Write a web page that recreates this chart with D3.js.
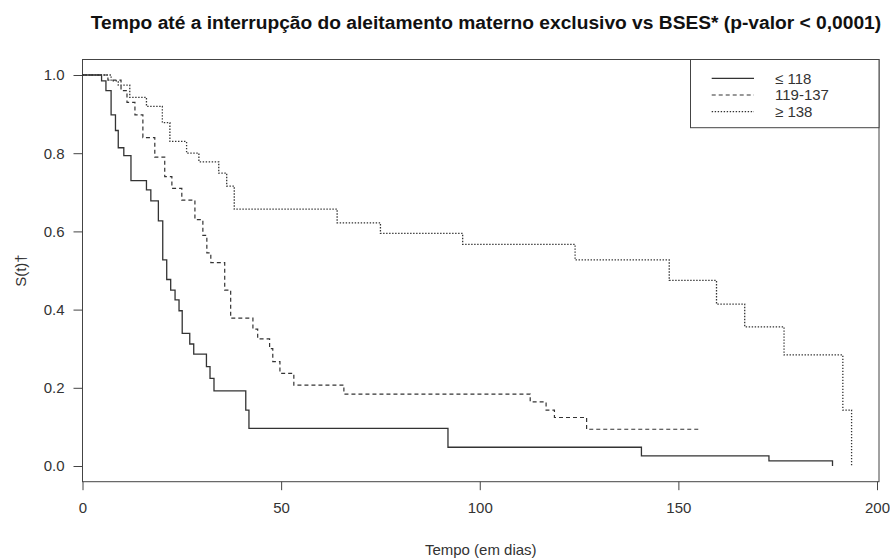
<!DOCTYPE html>
<html>
<head>
<meta charset="utf-8">
<script src="https://cdn.jsdelivr.net/npm/d3@7"></script>
<style>
  body { margin: 0; background: #ffffff; }
  svg text { font-family: "Liberation Sans", Arial, sans-serif; fill: #333; }
</style>
</head>
<body>
<div id="chart"></div>
<script>
// curvas de Kaplan-Meier (tempo em dias, S(t))
const baixoTempo = [0, 4.8, 5.9, 7.2, 8.3, 9.0, 10.4, 12.2, 16.1, 17.2, 19.1, 20.2, 21.2, 22.2, 23.3, 24.3, 25.1, 27.0, 28.0, 31.2, 32.1, 33.1, 41.1, 41.9, 92.0, 140.7, 172.8, 188.8];
const baixoSurv  = [1, 0.985, 0.96, 0.898, 0.858, 0.814, 0.794, 0.73, 0.706, 0.678, 0.627, 0.527, 0.477, 0.45, 0.425, 0.397, 0.339, 0.312, 0.286, 0.254, 0.224, 0.192, 0.143, 0.096, 0.048, 0.026, 0.013, 0];

const medioTempo = [0, 6.4, 9.7, 11.2, 13.2, 15.2, 18.2, 20.7, 22.5, 25.0, 28.3, 30.3, 31.3, 32.3, 35.8, 37.3, 42.9, 44.1, 47.1, 47.9, 49.7, 53.2, 65.8, 112.7, 116.7, 118.8, 126.9, 155.3];
const medioSurv  = [1, 0.987, 0.96, 0.93, 0.898, 0.84, 0.79, 0.74, 0.71, 0.68, 0.63, 0.59, 0.545, 0.52, 0.45, 0.378, 0.35, 0.325, 0.30, 0.267, 0.237, 0.207, 0.184, 0.164, 0.143, 0.124, 0.094, 0.094];

const altoTempo = [0, 7.2, 9.0, 11.9, 16.1, 20.1, 22.0, 26.2, 29.3, 34.3, 36.3, 38.2, 64.1, 75.0, 95.7, 124.0, 147.7, 159.6, 166.7, 176.6, 191.4, 193.6];
const altoSurv  = [1, 0.985, 0.974, 0.943, 0.92, 0.878, 0.83, 0.80, 0.778, 0.749, 0.716, 0.657, 0.622, 0.595, 0.567, 0.527, 0.475, 0.414, 0.356, 0.284, 0.143, 0];

const grupos = ["\u2264 118", "119-137", "\u2265 138"];
const xTicks = [0, 50, 100, 150, 200];
const yTicks = [0, 0.2, 0.4, 0.6, 0.8, 1.0];

const titulo = "Tempo até a interrupção do aleitamento materno exclusivo vs BSES* (p-valor < 0,0001)";

const width = 890, height = 559;
const box = {left: 82.5, right: 879, top: 59.5, bottom: 481.7};

let svg = d3.select("#chart")
    .append("svg")
    .attr("width", width)
    .attr("height", height);

let x = d3.scaleLinear().domain([0, 200]).range([82.5, 877]);
let y = d3.scaleLinear().domain([0, 1]).range([466, 75]);

// caixa do grafico
svg.append("rect")
    .attr("x", box.left)
    .attr("y", box.top)
    .attr("width", box.right - box.left)
    .attr("height", box.bottom - box.top)
    .style("fill", "none")
    .style("stroke", "#444")
    .style("stroke-width", 1);

// eixos
let xAxis = svg.append("g")
    .attr("transform", "translate(0," + box.bottom + ")")
    .call(d3.axisBottom(x).tickValues(xTicks).tickSize(8.5).tickPadding(12).tickFormat(d3.format("d")));

let yAxis = svg.append("g")
    .attr("transform", "translate(" + box.left + ",0)")
    .call(d3.axisLeft(y).tickValues(yTicks).tickSize(9).tickPadding(9).tickFormat(d3.format(".1f")));

[xAxis, yAxis].forEach(function(a) {
    a.select(".domain").remove();
    a.selectAll("line").style("stroke", "#444");
    a.selectAll("text").style("font-size", "15px").style("fill", "#333");
});

// titulos
svg.append("text")
    .attr("x", 486)
    .attr("y", 29)
    .attr("text-anchor", "middle")
    .style("font-size", "19.2px")
    .style("font-weight", "bold")
    .style("fill", "#111")
    .text(titulo);

svg.append("text")
    .attr("x", (box.left + box.right) / 2)
    .attr("y", 555)
    .attr("text-anchor", "middle")
    .style("font-size", "15px")
    .text("Tempo (em dias)");

svg.append("text")
    .attr("transform", "translate(26," + ((box.top + box.bottom) / 2) + ") rotate(-90)")
    .attr("text-anchor", "middle")
    .style("font-size", "15px")
    .text("S(t)\u2020");

// curvas
const series = [
    {tempo: baixoTempo, surv: baixoSurv, dash: null, w: 1.3},
    {tempo: medioTempo, surv: medioSurv, dash: "4,3", w: 1.2},
    {tempo: altoTempo, surv: altoSurv, dash: "1.4,1.6", w: 1.3}
];

let line = d3.line()
    .x(function(d) { return x(d.t); })
    .y(function(d) { return y(d.s); })
    .curve(d3.curveStepAfter);

series.forEach(function(sr) {
    let pts = sr.tempo.map(function(t, i) { return {t: t, s: sr.surv[i]}; });
    svg.append("path")
        .datum(pts)
        .attr("d", line)
        .style("fill", "none")
        .style("stroke", "#333")
        .style("stroke-width", sr.w)
        .style("stroke-dasharray", sr.dash);
});

// legenda
let leg = svg.append("g");
leg.append("rect")
    .attr("x", 690.5)
    .attr("y", box.top)
    .attr("width", box.right - 690.5)
    .attr("height", 127.7 - box.top)
    .style("fill", "#fff")
    .style("stroke", "#444")
    .style("stroke-width", 1);

const legY = [78.3, 95, 111.7];
grupos.forEach(function(g, i) {
    leg.append("line")
        .attr("x1", 711.7).attr("x2", 754)
        .attr("y1", legY[i]).attr("y2", legY[i])
        .style("stroke", "#333")
        .style("stroke-width", series[i].w)
        .style("stroke-dasharray", series[i].dash);
    leg.append("text")
        .attr("x", 775)
        .attr("y", legY[i])
        .attr("dy", "0.35em")
        .style("font-size", "15px")
        .text(g);
});
</script>
</body>
</html>
